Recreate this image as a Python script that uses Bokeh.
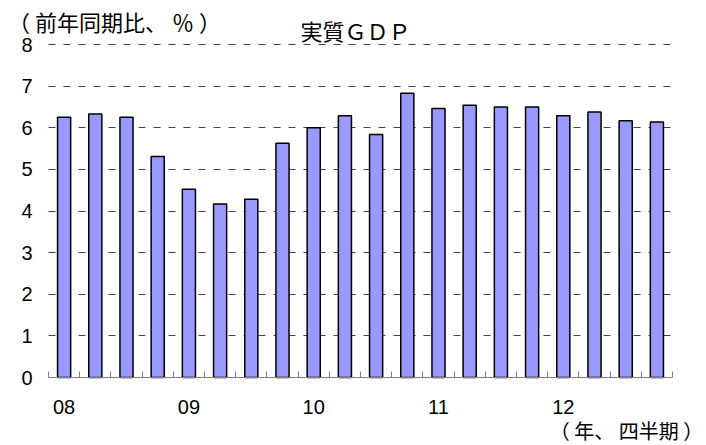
from bokeh.plotting import figure
from bokeh.models import Range1d, FixedTicker, Label
from bokeh.embed import file_html
from bokeh.resources import INLINE

years = ["08", "09", "10", "11", "12"]
values = [6.25, 6.33, 6.25, 5.31, 4.52, 4.17, 4.28, 5.63,
          6.00, 6.29, 5.84, 6.83, 6.46, 6.54, 6.50, 6.50,
          6.29, 6.38, 6.17, 6.14]
y_ticks = [0, 1, 2, 3, 4, 5, 6, 7, 8]
title_text = "実質ＧＤＰ"
ylabel_text = "（ 前年同期比、 ％ ）"
xlabel_text = "（ 年、 四半期 ）"

W, H = 706, 445
# plotting area in pixels (left, right, top, bottom)
L, R, T, B = 48, 672, 44, 377

n = len(values)
idx = list(range(n))
x0, x1 = -0.5, n - 0.5
y0, y1 = 0, 8
kx = (R - L) / (x1 - x0)
ky = (B - T) / (y1 - y0)

p = figure(width=W, height=H, output_backend="svg", toolbar_location=None,
           title=None,
           x_range=Range1d(x0 - L / kx, x1 + (W - R) / kx),
           y_range=Range1d(y0 - (H - B) / ky, y1 + T / ky),
           min_border=0)
p.outline_line_color = None
p.background_fill_color = "white"
p.border_fill_color = "white"

p.vbar(x=idx, top=values, width=0.42, bottom=0, fill_color="#9999FF",
       line_color="black", line_width=1.5)

# x axis
xa = p.xaxis[0]
xa.fixed_location = 0
xa.bounds = (x0, x1)
xa.ticker = FixedTicker(ticks=[i * 4 for i in range(len(years))],
                        minor_ticks=[i - 0.5 for i in range(n + 1)])
xa.major_label_overrides = {i * 4: y for i, y in enumerate(years)}
xa.major_tick_line_color = None
xa.major_tick_in = 0
xa.major_tick_out = 0
xa.minor_tick_in = 6
xa.minor_tick_out = 0
xa.minor_tick_line_color = "#808080"
xa.axis_line_color = "#808080"
xa.axis_line_width = 1
xa.major_label_standoff = 22
xa.major_label_text_font = "Liberation Sans"
xa.major_label_text_font_size = "20px"
xa.major_label_text_color = "black"

# y axis
ya = p.yaxis[0]
ya.fixed_location = x0
ya.ticker = FixedTicker(ticks=y_ticks)
ya.axis_line_color = None
ya.major_tick_line_color = None
ya.major_tick_in = 0
ya.major_tick_out = 0
ya.minor_tick_line_color = None
ya.major_label_standoff = 16
ya.major_label_text_font = "Liberation Sans"
ya.major_label_text_font_size = "20px"
ya.major_label_text_color = "black"

p.xgrid.visible = False
g = p.ygrid[0]
g.ticker = FixedTicker(ticks=y_ticks[1:])
g.grid_line_color = "#444444"
g.grid_line_dash = "7 8"
g.grid_line_width = 1
if "cross_bounds" in g.properties():
    g.cross_bounds = (x0, x1)
else:
    g.visible = False
    p.segment(x0=[x0] * (len(y_ticks) - 1), x1=[x1] * (len(y_ticks) - 1),
              y0=y_ticks[1:], y1=y_ticks[1:], line_color="#444444",
              line_dash="7 8", line_width=1)

cjk = "Noto Sans CJK JP"
p.add_layout(Label(x=355, y=29, x_units="canvas", y_units="canvas",
                   text=title_text, text_font=cjk,
                   text_font_size="22px", text_align="center",
                   text_baseline="middle", text_color="black"))
p.add_layout(Label(x=114, y=20, x_units="canvas", y_units="canvas",
                   text=ylabel_text, text_font=cjk,
                   text_font_size="22px", text_align="center",
                   text_baseline="middle", text_color="black"))
p.add_layout(Label(x=626, y=430, x_units="canvas", y_units="canvas",
                   text=xlabel_text, text_font=cjk,
                   text_font_size="20px", text_align="center",
                   text_baseline="middle", text_color="black"))

open("out.html", "w").write(file_html(p, INLINE))
